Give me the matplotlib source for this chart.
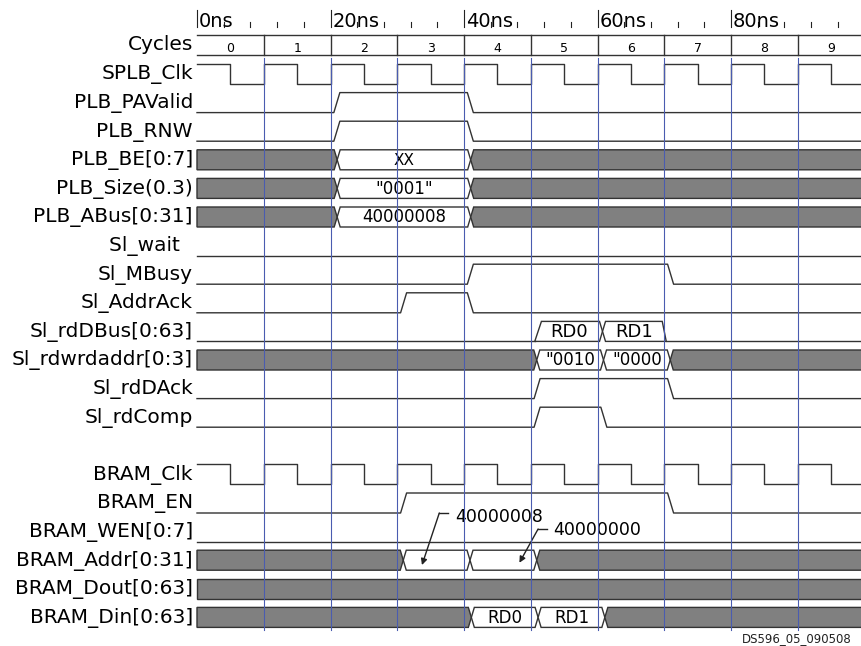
import matplotlib.pyplot as plt
import numpy as np

# ---- time base (ns) ----
period = 10
t_end = 100
cycles = list(range(10))
ruler_ticks = list(range(0, 100, 4))
ruler_major = [0, 20, 40, 60, 80]

# row labels, top to bottom ('' = spacer row)
row_names = ['SPLB_Clk', 'PLB_PAValid', 'PLB_RNW', 'PLB_BE[0:7]', 'PLB_Size(0.3)',
             'PLB_ABus[0:31]', 'Sl_wait  ', 'Sl_MBusy', 'Sl_AddrAck', 'Sl_rdDBus[0:63]',
             'Sl_rdwrdaddr[0:3]', 'Sl_rdDAck', 'Sl_rdComp', '',
             'BRAM_Clk', 'BRAM_EN', 'BRAM_WEN[0:7]', 'BRAM_Addr[0:31]',
             'BRAM_Dout[0:63]', 'BRAM_Din[0:63]']

# single bit signals: (rise, fall) in ns
pavalid_high = [(20, 40)]
rnw_high = [(20, 40)]
wait_high = []
mbusy_high = [(40, 70)]
addrack_high = [(30, 40)]
rddack_high = [(50, 70)]
rdcomp_high = [(50, 60)]
bram_en_high = [(30, 70)]
bram_wen_high = []

# buses: change times and value of each window (None = don't care / gray)
be_edges, be_values = [0, 20, 40, t_end], [None, 'XX', None]
size_edges, size_values = [0, 20, 40, t_end], [None, '"0001"', None]
abus_edges, abus_values = [0, 20, 40, t_end], [None, '40000008', None]
rdwr_edges, rdwr_values = [0, 50, 60, 70, t_end], [None, '"0010', '"0000', None]
addr_edges, addr_values = [0, 30, 40, 50, t_end], [None, '', '', None]
dout_edges, dout_values = [0, t_end], [None]
din_edges, din_values = [0, 40, 50, 60, t_end], [None, 'RD0', 'RD1', None]
# Sl_rdDBus only driven during the read data beats
rddbus_edges, rddbus_values = [50, 60, 70], ['RD0', 'RD1']

addr_notes = ['40000008', '40000000']
fig_tag = 'DS596_05_090508'

# ---- drawing ----
LINE = '#333333'
GRAY = '#808080'
BLUE = '#4a5cb0'
ns_px = 6.675      # pixels per ns
row_px = 28.6      # pixels per row
H = 20 / row_px    # wave height in row units
FONT = 14.5

fig = plt.figure(figsize=(8.62, 6.46), dpi=100)
ax = fig.add_axes([0, 0, 1, 1])
ax.set_xlim(-197 / ns_px, 665 / ns_px)
ax.set_ylim(562 / row_px, -84 / row_px)
ax.axis('off')


def bit_wave(row, highs):
    xs, ys = [0], [row]
    for r, f in highs:
        xs += [r + 0.5, r + 1.4, f + 0.5, f + 1.4]
        ys += [row, row - H, row - H, row]
    xs.append(t_end)
    ys.append(row)
    ax.plot(xs, ys, color=LINE, lw=1)


def clock_wave(row):
    xs, ys = [], []
    for c in cycles:
        t = c * period
        xs += [t, t, t + period / 2, t + period / 2]
        ys += [row, row - H, row - H, row]
    xs.append(t_end)
    ys.append(row)
    ax.plot(xs[1:], ys[1:], color=LINE, lw=1)


def bus_wave(row, edges, values, d=1.0, w=0.45):
    top, mid = row - H, row - H / 2
    last = len(values) - 1
    for i, v in enumerate(values):
        a = edges[i] + d if i > 0 else 0
        b = edges[i + 1] + d if i < last else t_end + 2
        left = [(a, row), (a, top)] if i == 0 else [(a + w, row), (a, mid), (a + w, top)]
        right = [(b - w, top), (b, mid), (b - w, row)] if i < last else [(b, top), (b, row)]
        pts = np.array(left + right)
        ax.fill(pts[:, 0], pts[:, 1], facecolor=GRAY if v is None else 'white',
                edgecolor=LINE, lw=1)
        if v:
            ax.text((a + b) / 2, row - 0.17, v, ha='center', va='baseline',
                    fontsize=11 if v == 'XX' else 12)


def float_bus(row, edges, values):
    top, mid = row - H, row - H / 2
    start, stop = edges[0] + 0.6, edges[-1] + 0.3
    ax.plot([0, start], [row, row], color=LINE, lw=1)
    ax.plot([stop, t_end], [row, row], color=LINE, lw=1)
    for i, v in enumerate(values):
        a = edges[i] + 0.75
        b = edges[i + 1] + 0.75
        left = [(start, row), (start + 1.0, top)] if i == 0 else [(a + 0.45, row), (a, mid), (a + 0.45, top)]
        right = [(b - 0.45, top), (b, mid), (b - 0.45, row)] if i < len(values) - 1 else [(stop - 0.6, top), (stop, row)]
        pts = np.array(left + right)
        ax.fill(pts[:, 0], pts[:, 1], facecolor='white', edgecolor=LINE, lw=1)
        xa = start if i == 0 else a
        xb = stop if i == len(values) - 1 else b
        ax.text((xa + xb) / 2, row - 0.15, v, ha='center', va='baseline', fontsize=13)


# time ruler
for t in ruler_ticks:
    y0 = -2.587 if t in ruler_major else -2.168
    ax.plot([t, t], [y0, -1.993], color='#222222', lw=0.8)
for t in ruler_major:
    ax.text(t + 0.3, -1.993, '%dns' % t, ha='left', va='baseline', fontsize=14)

# cycles row
ax.plot([0, t_end], [-1.713, -1.713], color=LINE, lw=1)
ax.plot([0, t_end], [-1.014, -1.014], color=LINE, lw=1)
for c in cycles:
    if c > 0:
        ax.plot([c * period, c * period], [-1.713, -1.014], color=LINE, lw=1)
    ax.text(c * period + period / 2, -1.12, str(c), ha='center', va='baseline', fontsize=9)
ax.text(-0.6, -1.19, 'Cycles', ha='right', va='baseline', fontsize=FONT)

# signal labels
for row, name in enumerate(row_names):
    if name:
        ax.text(-0.6, row - 0.16, name, ha='right', va='baseline', fontsize=FONT)

# waveforms
clock_wave(0)
bit_wave(1, pavalid_high)
bit_wave(2, rnw_high)
bus_wave(3, be_edges, be_values)
bus_wave(4, size_edges, size_values)
bus_wave(5, abus_edges, abus_values)
bit_wave(6, wait_high)
bit_wave(7, mbusy_high)
bit_wave(8, addrack_high)
float_bus(9, rddbus_edges, rddbus_values)
bus_wave(10, rdwr_edges, rdwr_values, d=0.9)
bit_wave(11, rddack_high)
bit_wave(12, rdcomp_high)
clock_wave(14)
bit_wave(15, bram_en_high)
bit_wave(16, bram_wen_high)
bus_wave(17, addr_edges, addr_values, d=0.9)
bus_wave(18, dout_edges, dout_values)
bus_wave(19, din_edges, din_values, d=1.1)

# address call-outs on BRAM_Addr
note_pos = [((38.7, 15.30), (37.6, 36.3, 15.0), (33.7, 16.82)),
            ((53.4, 15.77), (52.45, 51.1, 15.56), (48.3, 16.74))]
for label, (txt, (h0, h1, hy), tip) in zip(addr_notes, note_pos):
    ax.text(txt[0], txt[1], label, ha='left', va='baseline', fontsize=12.5)
    ax.plot([h0, h1], [hy, hy], color='#222222', lw=1)
    ax.annotate('', xy=tip, xytext=(h1, hy),
                arrowprops=dict(arrowstyle='-|>', color='#222222', lw=1,
                                mutation_scale=9, shrinkA=0, shrinkB=0))

# cycle boundary markers
for c in cycles[1:]:
    ax.plot([c * period, c * period], [-0.91, 19.09], color=BLUE, lw=0.8, zorder=5)

ax.text(81.6, 19.51, fig_tag, ha='left', va='baseline', fontsize=8.5, color='#222222')

fig.savefig('out.png', dpi=100)
